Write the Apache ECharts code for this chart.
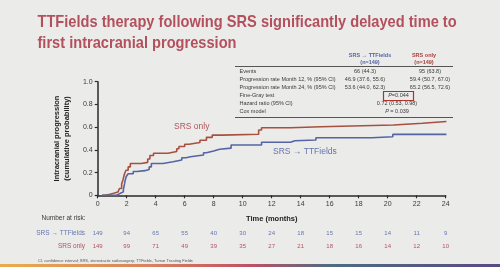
<!DOCTYPE html>
<html>
<head>
<meta charset="utf-8">
<script src="https://cdn.jsdelivr.net/npm/echarts@6/dist/echarts.min.js"></script>
<style>
  html, body { margin: 0; padding: 0; background: #ebebea; }
  #chart { width: 500px; height: 267px; }
</style>
</head>
<body>
<div id="chart"></div>
<script>
// Kaplan-Meier style cumulative incidence
const srsOnlyT = [0.3, 0.5, 0.85, 1.1, 1.4, 1.5, 1.65, 1.75, 1.85, 1.95, 2.1, 2.25, 3.0, 3.45, 3.6, 3.85, 4.85, 5.45, 5.6, 6.0, 6.3, 7.05, 7.5, 7.9, 8.6, 11.1, 11.3, 13.3, 15.4, 20.4, 22.4, 24.05];
const srsOnlyV = [0, 0.01, 0.018, 0.03, 0.04, 0.06, 0.1, 0.14, 0.19, 0.22, 0.25, 0.28, 0.29, 0.32, 0.35, 0.37, 0.385, 0.41, 0.43, 0.45, 0.465, 0.485, 0.51, 0.53, 0.537, 0.575, 0.594, 0.604, 0.619, 0.634, 0.65, 0.65];
const ttfT = [0.3, 1.3, 1.45, 1.6, 1.77, 1.85, 1.9, 1.97, 2.1, 2.45, 2.7, 3.26, 3.55, 3.7, 4.5, 5.2, 5.8, 6.1, 6.4, 7.3, 7.5, 8.0, 8.4, 9.2, 11.3, 13.3, 13.6, 15.05, 18.9, 20.35, 24.05];
const ttfV = [0, 0.01, 0.02, 0.03, 0.05, 0.1, 0.135, 0.165, 0.19, 0.21, 0.217, 0.228, 0.25, 0.28, 0.295, 0.31, 0.33, 0.34, 0.355, 0.375, 0.39, 0.405, 0.415, 0.443, 0.467, 0.48, 0.487, 0.507, 0.516, 0.536, 0.536];

const riskTimes = [0, 2, 4, 6, 8, 10, 12, 14, 16, 18, 20, 22, 24];
const riskTTF = [149, 94, 65, 55, 40, 30, 24, 18, 15, 15, 14, 11, 9];
const riskSRS = [149, 99, 71, 49, 39, 35, 27, 21, 18, 16, 14, 12, 10];

const tableRows = ["Events", "Progression rate Month 12, % (95% CI)", "Progression rate Month 24, % (95% CI)", "Fine-Gray test", "Hazard ratio (95% CI)", "Cox model"];
const tableTTF = ["66 (44.3)", "46.9 (37.6, 55.6)", "53.6 (44.0, 62.3)"];
const tableSRS = ["95 (63.8)", "59.4 (50.7, 67.0)", "65.2 (56.5, 72.6)"];

const RED = "#a7503f";
const BLUE = "#5565a3";
const TXT = "#3a3a3a";
const FONT = "Liberation Sans, Arial, sans-serif";

function pairs(t, v) {
  return t.map((x, i) => [x, v[i]]);
}

var chartDom = document.getElementById("chart");
var myChart = echarts.init(chartDom);

var option = {
  backgroundColor: "#ebebea",
  animation: false,
  grid: { left: 97.7, right: 54.3, top: 81.7, bottom: 71.7 },
  xAxis: {
    type: "value",
    min: 0,
    max: 24,
    interval: 2,
    axisLine: { show: true, lineStyle: { color: "#2a2a2a", width: 1.5 } },
    axisTick: { show: true, length: 3, lineStyle: { color: "#2a2a2a", width: 1.2 } },
    axisLabel: { color: TXT, fontSize: 7, fontFamily: FONT, margin: 5 },
    splitLine: { show: false },
  },
  yAxis: {
    type: "value",
    min: 0,
    max: 1,
    interval: 0.2,
    name: "Intracranial progression\n(cumulative probability)",
    nameLocation: "middle",
    nameGap: 25,
    nameTextStyle: { color: "#222", fontSize: 7.5, fontWeight: "bold", fontFamily: FONT, lineHeight: 10 },
    axisLine: { show: true, lineStyle: { color: "#2a2a2a", width: 1.5 } },
    axisTick: { show: true, length: 3, lineStyle: { color: "#2a2a2a", width: 1.2 } },
    axisLabel: {
      color: TXT,
      fontSize: 7,
      fontFamily: FONT,
      margin: 5,
      formatter: function (v) { return v === 0 ? "0" : v.toFixed(1); },
    },
    splitLine: { show: false },
  },
  series: [
    {
      name: "SRS only",
      type: "line",
      step: "end",
      showSymbol: false,
      data: pairs(srsOnlyT, srsOnlyV),
      lineStyle: { color: RED, width: 1.6 },
      color: RED,
    },
    {
      name: "SRS → TTFields",
      type: "line",
      step: "end",
      showSymbol: false,
      data: pairs(ttfT, ttfV),
      lineStyle: { color: BLUE, width: 1.6 },
      color: BLUE,
    },
  ],
};
myChart.setOption(option);

// everything drawn with graphic after the axes exist
var g = [];
function txt(x, y, s, st) {
  g.push({
    type: "text",
    x: x,
    y: y,
    style: Object.assign({ text: s, fill: TXT, fontSize: 5.5, fontFamily: FONT, textVerticalAlign: "middle" }, st || {}),
  });
}

// slide title (condensed a bit to match the narrow slide font)
["TTFields therapy following SRS significantly delayed time to", "first intracranial progression"].forEach(function (s, i) {
  g.push({
    type: "text",
    x: 37.5,
    y: 22.5 + i * 21,
    scaleX: 0.86,
    style: { text: s, fill: "#b3505c", fontSize: 17, fontWeight: "bold", fontFamily: FONT, textVerticalAlign: "middle" },
  });
});

// curve labels
txt(174, 127, "SRS only", { fill: "#b0545c", fontSize: 8.5 });
txt(273, 152, "SRS → TTFields", { fill: "#6373ad", fontSize: 8.5 });

// summary table
txt(370, 55, "SRS → TTFields", { fill: BLUE, fontWeight: "bold", textAlign: "center" });
txt(370, 62, "(n=149)", { fill: BLUE, fontWeight: "bold", textAlign: "center" });
txt(424, 55, "SRS only", { fill: "#a8403c", fontWeight: "bold", textAlign: "center" });
txt(424, 62, "(n=149)", { fill: "#a8403c", fontWeight: "bold", textAlign: "center" });
g.push({ type: "line", shape: { x1: 235, y1: 66.5, x2: 453, y2: 66.5 }, style: { stroke: "#555", lineWidth: 1 } });
g.push({ type: "line", shape: { x1: 235, y1: 117.5, x2: 453, y2: 117.5 }, style: { stroke: "#555", lineWidth: 1 } });
var rowY = [71.7, 79.5, 87.5, 95.5, 103.3, 111.3];
tableRows.forEach(function (r, i) { txt(239.5, rowY[i], r); });
tableTTF.forEach(function (s, i) { txt(365, rowY[i], s, { textAlign: "center" }); });
tableSRS.forEach(function (s, i) { txt(430, rowY[i], s, { textAlign: "center" }); });
g.push({ type: "rect", shape: { x: 383.5, y: 91.5, width: 30, height: 9 }, style: { fill: "none", stroke: "#b0302c", lineWidth: 1.2 } });
g.push({
  type: "text", x: 398.5, y: 95.8,
  style: { text: "{i|P}=0.044", fill: TXT, fontSize: 5.5, fontFamily: FONT, textAlign: "center", textVerticalAlign: "middle",
    rich: { i: { fontStyle: "italic", fontSize: 5.5, fontFamily: FONT, fill: TXT } } },
});
txt(397, rowY[4], "0.72 (0.53, 0.98)", { textAlign: "center" });
g.push({
  type: "text", x: 397, y: rowY[5],
  style: { text: "{i|P} = 0.039", fill: TXT, fontSize: 5.5, fontFamily: FONT, textAlign: "center", textVerticalAlign: "middle",
    rich: { i: { fontStyle: "italic", fontSize: 5.5, fontFamily: FONT, fill: TXT } } },
});

// x axis title and number at risk
var xMid = (myChart.convertToPixel({ xAxisIndex: 0 }, 0) + myChart.convertToPixel({ xAxisIndex: 0 }, 24)) / 2;
txt(xMid, 218.5, "Time (months)", { fill: "#222", fontSize: 7.5, fontWeight: "bold", textAlign: "center" });
txt(41.5, 218.7, "Number at risk:", { fontSize: 6.5 });
txt(85, 233.3, "SRS → TTFields", { fill: "#6676b0", fontSize: 6.5, textAlign: "right" });
txt(85, 246.7, "SRS only", { fill: "#b0545c", fontSize: 6.5, textAlign: "right" });
riskTimes.forEach(function (t, i) {
  var px = myChart.convertToPixel({ xAxisIndex: 0 }, t);
  txt(px, 233.3, String(riskTTF[i]), { fill: "#6676b0", fontSize: 6, textAlign: "center" });
  txt(px, 246.7, String(riskSRS[i]), { fill: "#b0545c", fontSize: 6, textAlign: "center" });
});

// footnote
txt(38, 260.7, "CI, confidence interval; SRS, stereotactic radiosurgery; TTFields, Tumor Treating Fields", { fill: "#555", fontSize: 4 });

// bottom colour band
g.push({
  type: "rect",
  shape: { x: 0, y: 264, width: 500, height: 3 },
  style: {
    fill: new echarts.graphic.LinearGradient(0, 0, 1, 0, [
      { offset: 0, color: "#e9ac4c" },
      { offset: 0.3, color: "#d98260" },
      { offset: 0.5, color: "#c05062" },
      { offset: 0.66, color: "#4d6b82" },
      { offset: 1, color: "#5a4a84" },
    ]),
  },
});

myChart.setOption({ graphic: g });

window.addEventListener("resize", function () {
  myChart.resize();
});
</script>
</body>
</html>
